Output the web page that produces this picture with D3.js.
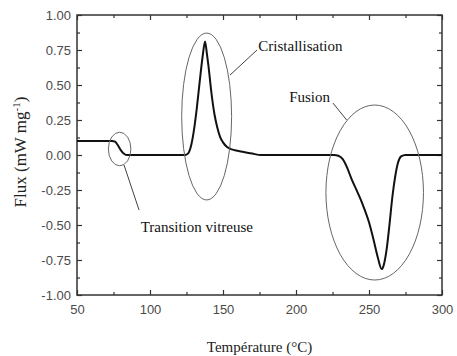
<!DOCTYPE html>
<html>
<head>
<meta charset="utf-8">
<script src="https://cdn.jsdelivr.net/npm/d3@7"></script>
<style>
  html, body { margin: 0; padding: 0; background: #fff; }
  svg { display: block; }
</style>
</head>
<body>
<svg id="chart" width="457" height="356"></svg>
<script>
// DSC thermogram: heat flux versus temperature
const temperature = [50, 74, 76, 78, 80, 82, 84, 120, 124, 126, 128, 130, 132, 134, 136, 137.7, 139, 140, 142, 144, 146, 148, 150, 153, 156, 160, 165, 170, 176,
  226, 229, 232, 235, 238, 241, 244, 247, 250, 253, 256, 258.7, 260, 262, 264, 266, 268, 270, 272, 275, 300];
const flux = [0.10, 0.10, 0.095, 0.07, 0.035, 0.01, 0.0, 0.0, 0.0, 0.01, 0.06, 0.17, 0.33, 0.52, 0.70, 0.81, 0.72, 0.64, 0.45, 0.30, 0.20, 0.13, 0.09, 0.055, 0.04, 0.03, 0.02, 0.01, 0.0,
  0.0, -0.005, -0.03, -0.09, -0.17, -0.24, -0.31, -0.39, -0.48, -0.60, -0.73, -0.815, -0.79, -0.68, -0.50, -0.30, -0.15, -0.05, -0.01, 0.0, 0.0];

const xTicks = [50, 100, 150, 200, 250, 300];
const yTicks = [1.00, 0.75, 0.50, 0.25, 0.00, -0.25, -0.50, -0.75, -1.00];
const xMinor = [75, 125, 175, 225, 275];
const yMinor = [0.875, 0.625, 0.375, 0.125, -0.125, -0.375, -0.625, -0.875];

// Highlighted regions: centre (T, flux) and radii (°C, flux units)
const regionNames = ["Transition vitreuse", "Cristallisation", "Fusion"];
const regionCx = [79.2, 138.8, 253.9];
const regionCy = [0.043, 0.275, -0.268];
const regionRx = [7.7, 17.1, 33.4];
const regionRy = [0.12, 0.596, 0.625];
// Leader lines from each ellipse to its label
const leaderFrom = [[82.2, -0.071], [154.8, 0.571], [234.7, 0.25]];
const leaderTo = [[92.5, -0.393], [173.3, 0.75], [225.3, 0.371]];
const labelPos = [[93.6, -0.548], [174.2, 0.743], [223.3, 0.38]];
const labelAnchor = ["start", "start", "end"];

const margin = { top: 15, right: 15, bottom: 61, left: 77 };
const W = 457, H = 356;
const iw = W - margin.left - margin.right;
const ih = H - margin.top - margin.bottom;

const svg = d3.select("#chart");
const g = svg.append("g").attr("transform", `translate(${margin.left},${margin.top})`);

const x = d3.scaleLinear().domain([50, 300]).range([0, iw]);
const y = d3.scaleLinear().domain([-1, 1]).range([ih, 0]);

const axisColor = "#333";
const labelColor = "#4a4a4a";
const tickFont = "'Liberation Sans Narrow', 'Liberation Sans', Arial, sans-serif";
const serif = "'Liberation Serif', 'Times New Roman', serif";

// Frame
g.append("rect").attr("x", 0).attr("y", 0).attr("width", iw).attr("height", ih)
  .attr("fill", "none").attr("stroke", axisColor).attr("stroke-width", 1.5);

// Inward ticks on all four sides
function styleAxis(sel) {
  sel.select(".domain").remove();
  sel.selectAll("line").attr("stroke", axisColor).attr("stroke-width", 1.2);
  sel.selectAll("text").attr("fill", labelColor).style("font-family", tickFont).style("font-size", "13px");
}
g.append("g").attr("transform", `translate(0,${ih})`)
  .call(d3.axisBottom(x).tickValues(xTicks).tickSize(-5).tickPadding(10).tickFormat(d3.format("d")))
  .call(styleAxis);
g.append("g").attr("transform", `translate(0,${ih})`)
  .call(d3.axisBottom(x).tickValues(xMinor).tickSize(-3).tickFormat(""))
  .call(styleAxis);
g.append("g").call(d3.axisTop(x).tickValues(xTicks).tickSize(-5).tickFormat("")).call(styleAxis);
g.append("g").call(d3.axisTop(x).tickValues(xMinor).tickSize(-3).tickFormat("")).call(styleAxis);

g.append("g")
  .call(d3.axisLeft(y).tickValues(yTicks).tickSize(-5).tickPadding(6).tickFormat(d3.format(".2f")))
  .call(styleAxis);
g.append("g").call(d3.axisLeft(y).tickValues(yMinor).tickSize(-3).tickFormat("")).call(styleAxis);
g.append("g").attr("transform", `translate(${iw},0)`)
  .call(d3.axisRight(y).tickValues(yTicks).tickSize(-5).tickFormat("")).call(styleAxis);
g.append("g").attr("transform", `translate(${iw},0)`)
  .call(d3.axisRight(y).tickValues(yMinor).tickSize(-3).tickFormat("")).call(styleAxis);

// Plain hyphen for negative tick labels
g.selectAll("text").filter(function () { return this.textContent.startsWith("−"); })
  .text(function () { return "-" + this.textContent.slice(1); });

// Curve
const pts = temperature.map((t, i) => [t, flux[i]]);
const line = d3.line().x(d => x(d[0])).y(d => y(d[1])).curve(d3.curveMonotoneX);
g.append("path").datum(pts).attr("d", line)
  .attr("fill", "none").attr("stroke", "#111").attr("stroke-width", 2).attr("stroke-linejoin", "round");

// Region ellipses, leaders, labels
regionNames.forEach((name, i) => {
  g.append("ellipse")
    .attr("cx", x(regionCx[i])).attr("cy", y(regionCy[i]))
    .attr("rx", x(50 + regionRx[i]) - x(50)).attr("ry", y(0) - y(regionRy[i]))
    .attr("fill", "none").attr("stroke", "#666").attr("stroke-width", 1);
  g.append("line")
    .attr("x1", x(leaderFrom[i][0])).attr("y1", y(leaderFrom[i][1]))
    .attr("x2", x(leaderTo[i][0])).attr("y2", y(leaderTo[i][1]))
    .attr("stroke", "#444").attr("stroke-width", 1);
  g.append("text")
    .attr("x", x(labelPos[i][0])).attr("y", y(labelPos[i][1]))
    .attr("text-anchor", labelAnchor[i])
    .style("font-family", serif).style("font-size", "15px").attr("fill", "#111")
    .text(name);
});

// Axis titles
svg.append("text")
  .attr("x", margin.left + iw / 2).attr("y", 352)
  .attr("text-anchor", "middle")
  .style("font-family", serif).style("font-size", "15px").attr("fill", "#222")
  .text("Température (°C)");

const yt = svg.append("text")
  .attr("transform", `translate(26,${margin.top + ih / 2 - 3}) rotate(-90)`)
  .attr("text-anchor", "middle")
  .style("font-family", serif).style("font-size", "17px").attr("fill", "#222");
yt.append("tspan").text("Flux (mW mg");
yt.append("tspan").attr("dy", -6).style("font-size", "11px").text("-1");
yt.append("tspan").attr("dy", 6).text(")");
</script>
</body>
</html>
